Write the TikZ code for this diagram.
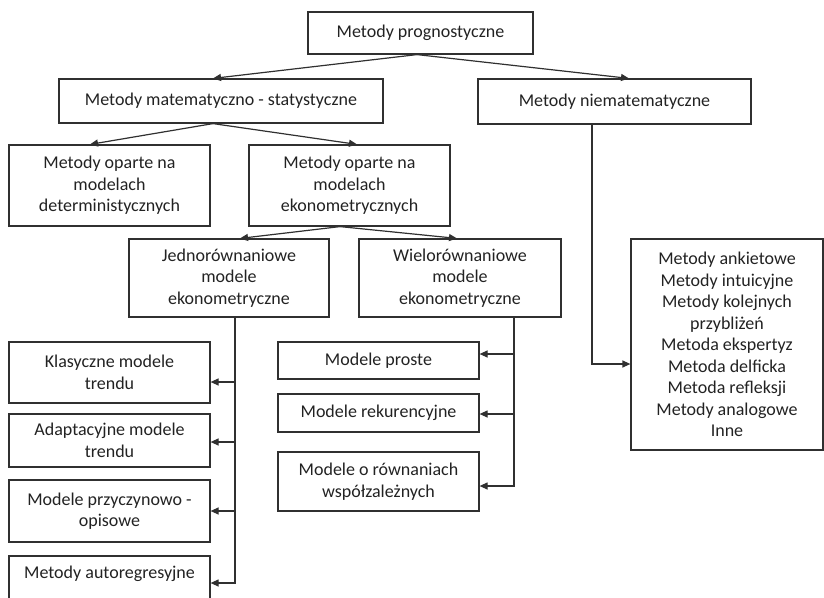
\documentclass[tikz,border=0pt]{standalone}
\usepackage{fontspec}
\setmainfont{Carlito}
\usetikzlibrary{arrows.meta}
\definecolor{ink}{HTML}{222222}
\definecolor{wire}{HTML}{303030}
\begin{document}
\begin{tikzpicture}[x=1pt,y=-1pt,
  box/.style={draw=wire,line width=1.2pt,inner sep=0pt,align=center,
    text=ink,font=\fontsize{18}{21.5}\selectfont},
  link/.style={draw=wire,line width=1.2pt},
  arr/.style={link,-{Triangle[length=8pt,width=7pt]}}]
\useasboundingbox (0,0) rectangle (824,597);
\begin{scope}
\clip (0,0) rectangle (824,597);
% top level
\node[box,minimum width=225,minimum height=42] (top) at (420.5,33) {Metody prognostyczne};
\node[box,minimum width=324,minimum height=44] (mms) at (221,101) {Metody matematyczno - statystyczne};
\node[box,minimum width=273,minimum height=45] (nm) at (614.5,101.5) {Metody niematematyczne};
% mathematical branch
\node[box,minimum width=201,minimum height=81] (det) at (109.5,185.5) {Metody oparte na\\modelach\\deterministycznych};
\node[box,minimum width=201,minimum height=81] (eko) at (349.5,185.5) {Metody oparte na\\modelach\\ekonometrycznych};
\node[box,minimum width=200,minimum height=78] (jedn) at (229,278) {Jednorównaniowe\\modele\\ekonometryczne};
\node[box,minimum width=202,minimum height=78] (wielo) at (460,278) {Wielorównaniowe\\modele\\ekonometryczne};
% single-equation models
\node[box,minimum width=201,minimum height=61] (kl) at (109.5,372.5) {Klasyczne modele\\trendu};
\node[box,minimum width=201,minimum height=53] (ad) at (109.5,440.5) {Adaptacyjne modele\\trendu};
\node[box,minimum width=201,minimum height=62] (pr) at (109.5,511) {Modele przyczynowo -\\opisowe};
\node[box,minimum width=201,minimum height=54] (au) at (109.5,583) {Metody autoregresyjne\\~};
% multi-equation models
\node[box,minimum width=201,minimum height=37] (mp) at (378.5,360.5) {Modele proste};
\node[box,minimum width=201,minimum height=38] (mr) at (378.5,413) {Modele rekurencyjne};
\node[box,minimum width=201,minimum height=59] (mw) at (378.5,481.5) {Modele o równaniach\\współzależnych};
% non-mathematical methods
\node[box,minimum width=192,minimum height=211] (nmlist) at (727,344.5) {Metody ankietowe\\Metody intuicyjne\\Metody kolejnych\\przybliżeń\\Metoda ekspertyz\\Metoda delficka\\Metoda refleksji\\Metody analogowe\\Inne};

% fan-out arrows
\draw[arr] ([xshift=-3.5]top.south) -- ([xshift=-8]mms.north);
\draw[arr] ([xshift=-3.5]top.south) -- ([xshift=14.5]nm.north);
\draw[arr] ([xshift=-8]mms.south) -- ([xshift=-19.5]det.north);
\draw[arr] ([xshift=-8]mms.south) -- ([xshift=7.5]eko.north);
\draw[arr] ([xshift=-9.5]eko.south) -- ([xshift=11]jedn.north);
\draw[arr] ([xshift=-9.5]eko.south) -- ([xshift=-3]wielo.north);

% bus lines
\coordinate (jb) at (235,583);
\draw[arr] (jedn.south -| jb) -- (jb) -- (au.east |- jb);
\draw[arr] (jb |- 0,382) -- (kl.east |- 0,382);
\draw[arr] (jb |- 0,442) -- (ad.east |- 0,442);
\draw[arr] (jb |- 0,511) -- (pr.east |- 0,511);

\coordinate (wb) at (514,486);
\draw[arr] (wielo.south -| wb) -- (wb) -- (mw.east |- wb);
\draw[arr] (wb |- 0,354) -- (mp.east |- 0,354);
\draw[arr] (wb |- 0,414) -- (mr.east |- 0,414);

\coordinate (nb) at (592,364);
\draw[arr] (nm.south -| nb) -- (nb) -- (nmlist.west |- nb);
\end{scope}
\end{tikzpicture}
\end{document}
